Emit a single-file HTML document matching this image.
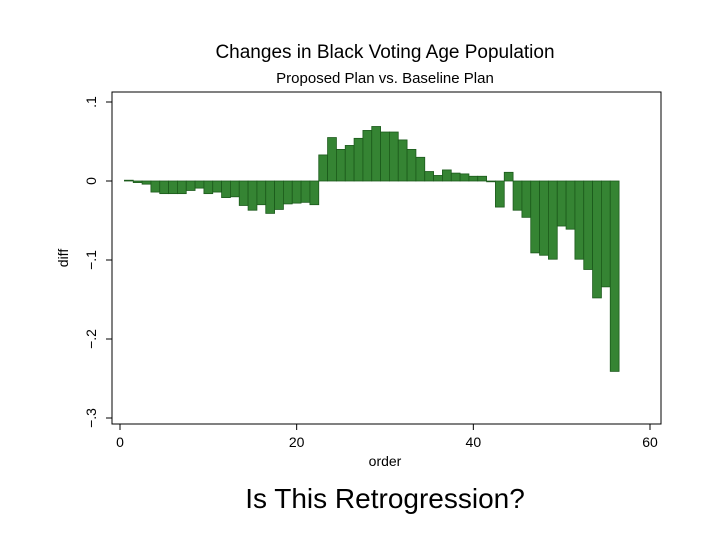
<!DOCTYPE html>
<html><head><meta charset="utf-8"><style>
body{margin:0;background:#fff;width:720px;height:540px;overflow:hidden}
text{font-family:"Liberation Sans",sans-serif}
</style></head><body>
<svg id="chart" width="720" height="540">
<text x="385" y="58" text-anchor="middle" font-size="19">Changes in Black Voting Age Population</text>
<text x="385" y="83" text-anchor="middle" font-size="15">Proposed Plan vs. Baseline Plan</text>
<rect x="112" y="92" width="549" height="332" fill="none" stroke="#000" stroke-width="1"/>
<g id="bars"></g><g id="axes"></g>
<text x="385" y="466" text-anchor="middle" font-size="14">order</text>
<text transform="translate(68,258) rotate(-90)" text-anchor="middle" font-size="14">diff</text>
<text x="385" y="508" text-anchor="middle" font-size="28">Is This Retrogression?</text>
</svg>
<script>
const orders=[1,2,3,4,5,6,7,8,9,10,11,12,13,14,15,16,17,18,19,20,21,22,23,24,25,26,27,28,29,30,31,32,33,34,35,36,37,38,39,40,41,42,43,44,45,46,47,48,49,50,51,52,53,54,55,56];
const diffs=[0.001,-0.002,-0.004,-0.014,-0.016,-0.016,-0.016,-0.012,-0.009,-0.016,-0.014,-0.021,-0.020,-0.031,-0.037,-0.030,-0.041,-0.036,-0.029,-0.028,-0.027,-0.030,0.033,0.055,0.040,0.045,0.054,0.064,0.069,0.062,0.062,0.052,0.040,0.030,0.012,0.007,0.014,0.010,0.009,0.006,0.006,-0.001,-0.033,0.011,-0.037,-0.046,-0.091,-0.094,-0.099,-0.057,-0.061,-0.099,-0.112,-0.148,-0.134,-0.241];
const xTicks=[0,20,40,60];
const yTicks=[0.1,0,-0.1,-0.2,-0.3];
const yTickLabels=[".1","0","\u2212.1","\u2212.2","\u2212.3"];
const NS="http://www.w3.org/2000/svg";
const xs=v=>120+v*(530/60);
const ys=v=>181-v*790;
const bars=document.getElementById('bars');
orders.forEach((o,i)=>{
 const r=document.createElementNS(NS,'rect');
 const y0=ys(0),y1=ys(diffs[i]);
 r.setAttribute('x',xs(o-0.5));r.setAttribute('width',xs(1)-xs(0));
 r.setAttribute('y',Math.min(y0,y1));r.setAttribute('height',Math.max(Math.abs(y1-y0),0.8));
 r.setAttribute('fill','#358433');r.setAttribute('stroke','#1b5a1b');r.setAttribute('stroke-width','0.8');
 
 
 bars.appendChild(r);
});
const ax=document.getElementById('axes');
xTicks.forEach(t=>{
 const l=document.createElementNS(NS,'line');
 l.setAttribute('x1',xs(t));l.setAttribute('x2',xs(t));l.setAttribute('y1',424);l.setAttribute('y2',430);l.setAttribute('stroke','#000');
 
 
 ax.appendChild(l);
 const tx=document.createElementNS(NS,'text');
 tx.setAttribute('x',xs(t));tx.setAttribute('y',447);tx.setAttribute('text-anchor','middle');tx.setAttribute('font-size','14');
 tx.textContent=t;
 
 
 ax.appendChild(tx);
});
yTicks.forEach((t,i)=>{
 const l=document.createElementNS(NS,'line');
 l.setAttribute('x1',106);l.setAttribute('x2',112);l.setAttribute('y1',ys(t));l.setAttribute('y2',ys(t));l.setAttribute('stroke','#000');
 
 
 ax.appendChild(l);
 const tx=document.createElementNS(NS,'text');
 tx.setAttribute('transform','translate(96,'+ys(t)+') rotate(-90)');tx.setAttribute('text-anchor','middle');tx.setAttribute('font-size','14');
 tx.textContent=yTickLabels[i];
 
 
 ax.appendChild(tx);
});
</script>
</body></html>
